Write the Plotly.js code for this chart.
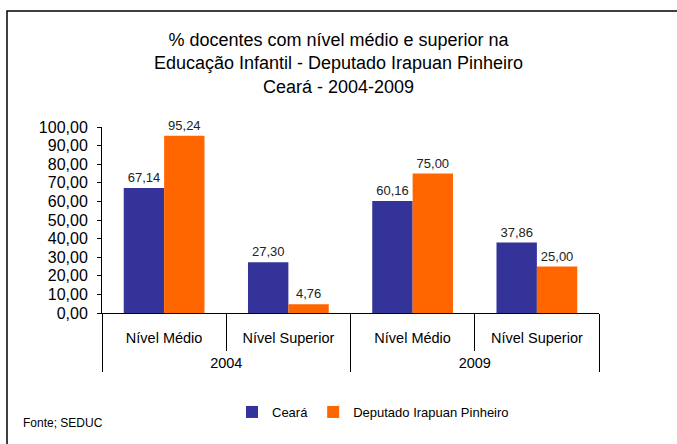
<!DOCTYPE html>
<html>
<head>
<meta charset="utf-8">
<script src="https://cdn.plot.ly/plotly-3.0.1.min.js"></script>
<style>html,body{margin:0;padding:0;background:#fff;}#chart{width:677px;height:444px;}</style>
</head>
<body>
<div id="chart"></div>
<script>
const years = ["2004", "2004", "2009", "2009"];
const levels = ["Nível Médio", "Nível Superior", "Nível Médio", "Nível Superior"];
const cearaValues = [67.14, 27.30, 60.16, 37.86];
const irapuanValues = [95.24, 4.76, 75.00, 25.00];
const seriesNames = ["Ceará", "Deputado Irapuan Pinheiro"];
const yTicks = [0, 10, 20, 30, 40, 50, 60, 70, 80, 90, 100];

const font = "Liberation Sans, Arial, sans-serif";
const L = 102, R = 599, T = 127, B = 313;
const W = R - L, H = B - T;
const px = v => (v - L) / W;
const py = v => (B - v) / H;

// inner labels get an empty second line so the year row sits lower, as in the reference
const levelLabels = levels.map(s => s + "<br> ");

const traces = [
  {type: "bar", name: seriesNames[0], x: [years, levelLabels], y: cearaValues,
   marker: {color: "#333399"}, texttemplate: "%{y:.2f}", textposition: "outside",
   textfont: {family: font, size: 13, color: "#222"}, cliponaxis: false, hoverinfo: "skip"},
  {type: "bar", name: seriesNames[1], x: [years, levelLabels], y: irapuanValues,
   marker: {color: "#FF6600"}, texttemplate: "%{y:.2f}", textposition: "outside",
   textfont: {family: font, size: 13, color: "#222"}, cliponaxis: false, hoverinfo: "skip"}
];

const layout = {
  width: 677, height: 444,
  margin: {l: L, r: 677 - R, t: T, b: 444 - B, pad: 0},
  paper_bgcolor: "#fff", plot_bgcolor: "#fff",
  separators: ",.",
  font: {family: font, color: "#000"},
  showlegend: true,
  barmode: "group", bargap: 0.35, bargroupgap: 0,
  title: {text: "% docentes com nível médio e superior na<br>Educação Infantil - Deputado Irapuan Pinheiro<br>Ceará - 2004-2009",
          font: {family: font, size: 18, color: "#000"}, x: 0.5, xref: "container",
          y: 1 - 46 / 444, yref: "container", yanchor: "top"},
  xaxis: {type: "multicategory", showline: true, linecolor: "#000", linewidth: 1,
          ticks: "outside", tickson: "boundaries", ticklen: 37, tickcolor: "#000",
          showdividers: true, dividercolor: "#000", dividerwidth: 1,
          ticklabelstandoff: 12,
          tickfont: {family: font, size: 14.5, color: "#000"}, showgrid: false, zeroline: false,
          range: [-0.5, 3.5]},
  yaxis: {range: [0, 100], tickvals: yTicks, tickformat: ".2f", showline: true, linecolor: "#000",
          linewidth: 1, ticks: "outside", ticklen: 4, tickcolor: "#000", showgrid: false,
          zeroline: false, tickfont: {family: font, size: 16, color: "#000"}, ticklabelstandoff: 6},
  legend: {orientation: "h", x: px(232), xanchor: "left", y: py(412), yanchor: "middle",
           font: {family: font, size: 13, color: "#000"}, itemwidth: 30, tracegroupgap: 0,
           bgcolor: "rgba(0,0,0,0)"},
  annotations: [
    {text: "Fonte; SEDUC", xref: "paper", yref: "paper", x: px(21), y: py(423), xanchor: "left",
     yanchor: "middle", showarrow: false, font: {family: font, size: 12, color: "#000"}}
  ],
  shapes: [
    {type: "rect", xref: "paper", yref: "paper", x0: px(7), x1: px(700), y0: py(11), y1: py(470),
     line: {color: "#000", width: 1.5}, fillcolor: "rgba(0,0,0,0)", layer: "below"}
  ]
};

Plotly.newPlot("chart", traces, layout, {staticPlot: true, displayModeBar: false});
</script>
</body>
</html>
